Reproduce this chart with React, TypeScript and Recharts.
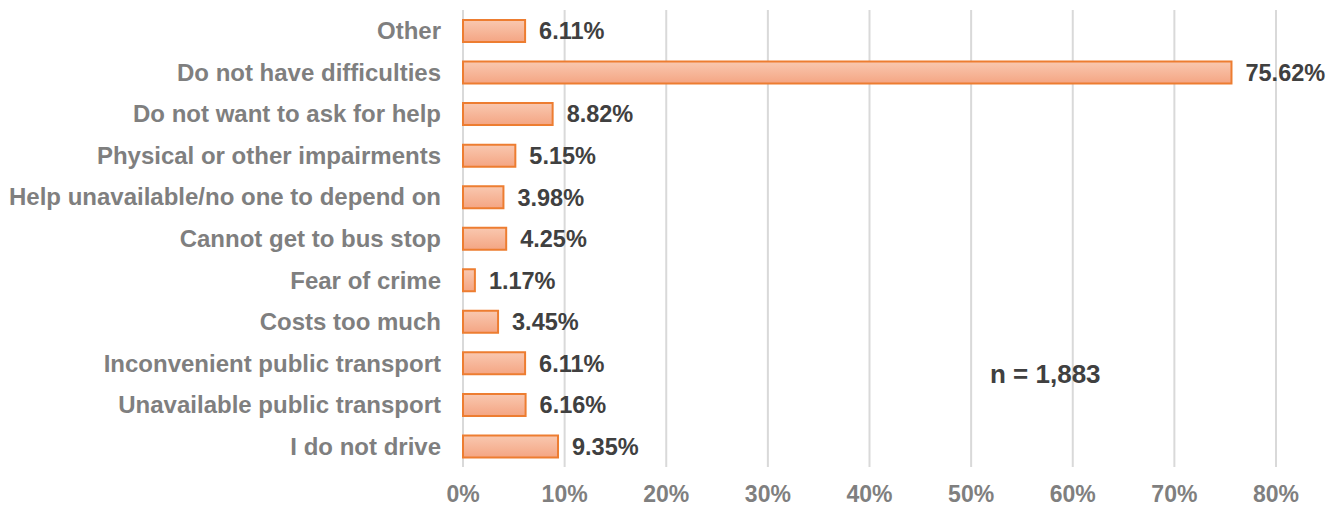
import { Bar, BarChart, CartesianGrid, LabelList, XAxis, YAxis } from "recharts";

const categories = [
  "Other",
  "Do not have difficulties",
  "Do not want to ask for help",
  "Physical or other impairments",
  "Help unavailable/no one to depend on",
  "Cannot get to bus stop",
  "Fear of crime",
  "Costs too much",
  "Inconvenient public transport",
  "Unavailable public transport",
  "I do not drive",
];

const shares = [6.11, 75.62, 8.82, 5.15, 3.98, 4.25, 1.17, 3.45, 6.11, 6.16, 9.35];

const xTicks = [0, 10, 20, 30, 40, 50, 60, 70, 80];

const sampleNote = "n = 1,883";

const data = categories.map((name, i) => ({ name, value: shares[i] }));

const FONT = "'Liberation Sans', Arial, sans-serif";

export default function App() {
  return (
    <div style={{ position: "absolute", left: 0, top: 0, width: 1336, height: 508, fontFamily: FONT }}>
      <BarChart
        width={1336}
        height={508}
        data={data}
        layout="vertical"
        margin={{ top: 10, right: 60, left: 0, bottom: 0 }}
        barSize={22}
      >
        <defs>
          <linearGradient id="barFill" x1="0" y1="0" x2="0" y2="1">
            <stop offset="0%" stopColor="#F9C8B0" />
            <stop offset="100%" stopColor="#F4A583" />
          </linearGradient>
        </defs>
        <CartesianGrid horizontal={false} stroke="#D9D9D9" strokeWidth={2} />
        <XAxis
          type="number"
          domain={[0, 80]}
          ticks={xTicks}
          tickFormatter={(v: number) => `${v}%`}
          axisLine={false}
          tickLine={false}
          tickSize={0}
          tickMargin={19}
          height={41}
          interval={0}
          tick={{ fill: "#7F7F7F", fontSize: 23, fontWeight: 700, fontFamily: FONT }}
        />
        <YAxis
          type="category"
          dataKey="name"
          width={463}
          axisLine={false}
          tickLine={false}
          tickSize={0}
          tickMargin={22}
          interval={0}
          tick={{ fill: "#7F7F7F", fontSize: 24, fontWeight: 700, fontFamily: FONT }}
        />
        <Bar
          dataKey="value"
          fill="url(#barFill)"
          stroke="#ED7D31"
          strokeWidth={2}
          isAnimationActive={false}
        >
          <LabelList
            dataKey="value"
            position="right"
            offset={14}
            formatter={(v: number) => `${v.toFixed(2)}%`}
            style={{ fill: "#404040", fontSize: 23.5, fontWeight: 700, fontFamily: FONT }}
          />
        </Bar>
      </BarChart>
      <div
        style={{
          position: "absolute",
          left: 990,
          top: 359,
          color: "#404040",
          fontSize: 26,
          fontWeight: 700,
          lineHeight: "30px",
          whiteSpace: "nowrap",
        }}
      >
        {sampleNote}
      </div>
    </div>
  );
}
